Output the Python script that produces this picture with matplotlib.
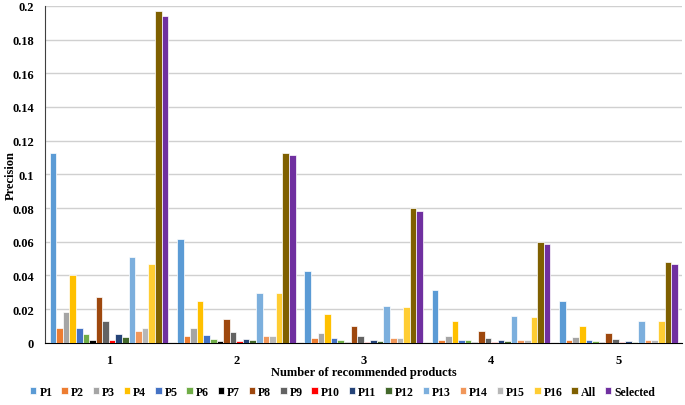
import matplotlib
matplotlib.use("Agg")
import matplotlib.pyplot as plt
import numpy as np
from matplotlib.ticker import FuncFormatter

plt.rcParams['font.family'] = ['Liberation Serif', 'DejaVu Serif']

groups = ['1', '2', '3', '4', '5']
series = ['P1', 'P2', 'P3', 'P4', 'P5', 'P6', 'P7', 'P8', 'P9', 'P10',
          'P11', 'P12', 'P13', 'P14', 'P15', 'P16', 'All', 'Selected']
colors = ['#5B9BD5', '#ED7D31', '#A5A5A5', '#FFC000', '#4472C4', '#70AD47',
          '#000000', '#9E480E', '#636363', '#FF0000', '#264478', '#43682B',
          '#7CAFDD', '#F1975A', '#B7B7B7', '#FFCD33', '#7F6000', '#7030A0']

# precision per series, one value per group (1..5)
P1 = [0.1124, 0.0618, 0.0425, 0.0315, 0.0251]
P2 = [0.0091, 0.0043, 0.0030, 0.0020, 0.0015]
P3 = [0.0184, 0.0089, 0.0060, 0.0043, 0.0036]
P4 = [0.0402, 0.0251, 0.0172, 0.0129, 0.0101]
P5 = [0.0091, 0.0046, 0.0030, 0.0020, 0.0015]
P6 = [0.0055, 0.0026, 0.0016, 0.0015, 0.0012]
P7 = [0.0016, 0.0012, 0.0007, 0.0007, 0.0007]
P8 = [0.0273, 0.0142, 0.0103, 0.0073, 0.0060]
P9 = [0.0130, 0.0065, 0.0040, 0.0030, 0.0026]
P10 = [0.0016, 0.0012, 0.0007, 0.0007, 0.0007]
P11 = [0.0055, 0.0026, 0.0015, 0.0015, 0.0012]
P12 = [0.0036, 0.0015, 0.0010, 0.0010, 0.0008]
P13 = [0.0510, 0.0295, 0.0216, 0.0162, 0.0129]
P14 = [0.0071, 0.0043, 0.0030, 0.0020, 0.0015]
P15 = [0.0091, 0.0043, 0.0030, 0.0020, 0.0015]
P16 = [0.0470, 0.0295, 0.0212, 0.0156, 0.0129]
All = [0.1968, 0.1125, 0.0800, 0.0598, 0.0480]
Selected = [0.1940, 0.1115, 0.0785, 0.0588, 0.0470]

values = [P1, P2, P3, P4, P5, P6, P7, P8, P9, P10,
          P11, P12, P13, P14, P15, P16, All, Selected]

fig = plt.figure(figsize=(6.85, 4.06), dpi=100)
ax = fig.add_axes([0.066, 0.153, 0.93, 0.83])

x = np.arange(len(groups))
n = len(series)
group_w = 0.93
w = group_w / n
for i, (name, vals, c) in enumerate(zip(series, values, colors)):
    off = -group_w / 2 + w * (i + 0.5)
    ax.bar(x + off, vals, width=w, color=c, edgecolor='white',
           linewidth=0.5, label=name, zorder=3)

ax.set_xlim(-0.5, len(groups) - 0.5)
ax.set_ylim(0, 0.2)
ax.set_yticks(np.arange(0, 0.2001, 0.02))
ax.yaxis.set_major_formatter(FuncFormatter(lambda v, p: '%g' % round(v, 2)))
ax.set_xticks(x)
ax.set_xticklabels(groups)
ax.tick_params(length=0, labelsize=9)
for lab in ax.get_xticklabels() + ax.get_yticklabels():
    lab.set_fontweight('bold')
ax.tick_params(axis='x', pad=8)
ax.tick_params(axis='y', pad=8)
ax.grid(axis='y', color='#D0D0D0', linewidth=1, zorder=0)
ax.spines['top'].set_visible(False)
ax.spines['right'].set_visible(False)
ax.spines['left'].set_color('#404040')
ax.spines['bottom'].set_color('#000000')

ax.set_ylabel('Precision', fontsize=9, fontweight='bold')
ax.yaxis.set_label_coords(-0.045, 0.5)
ax.set_xlabel('Number of recommended products', fontsize=9,
              fontweight='bold', labelpad=0)

fig.legend(loc='center', bbox_to_anchor=(0.5, 0.032), ncol=n,
           frameon=False, handlelength=0.55, handleheight=0.55,
           handletextpad=0.25, columnspacing=0.75, borderpad=0,
           prop={'weight': 'bold', 'size': 8.5})

fig.savefig('out.png', dpi=100)
